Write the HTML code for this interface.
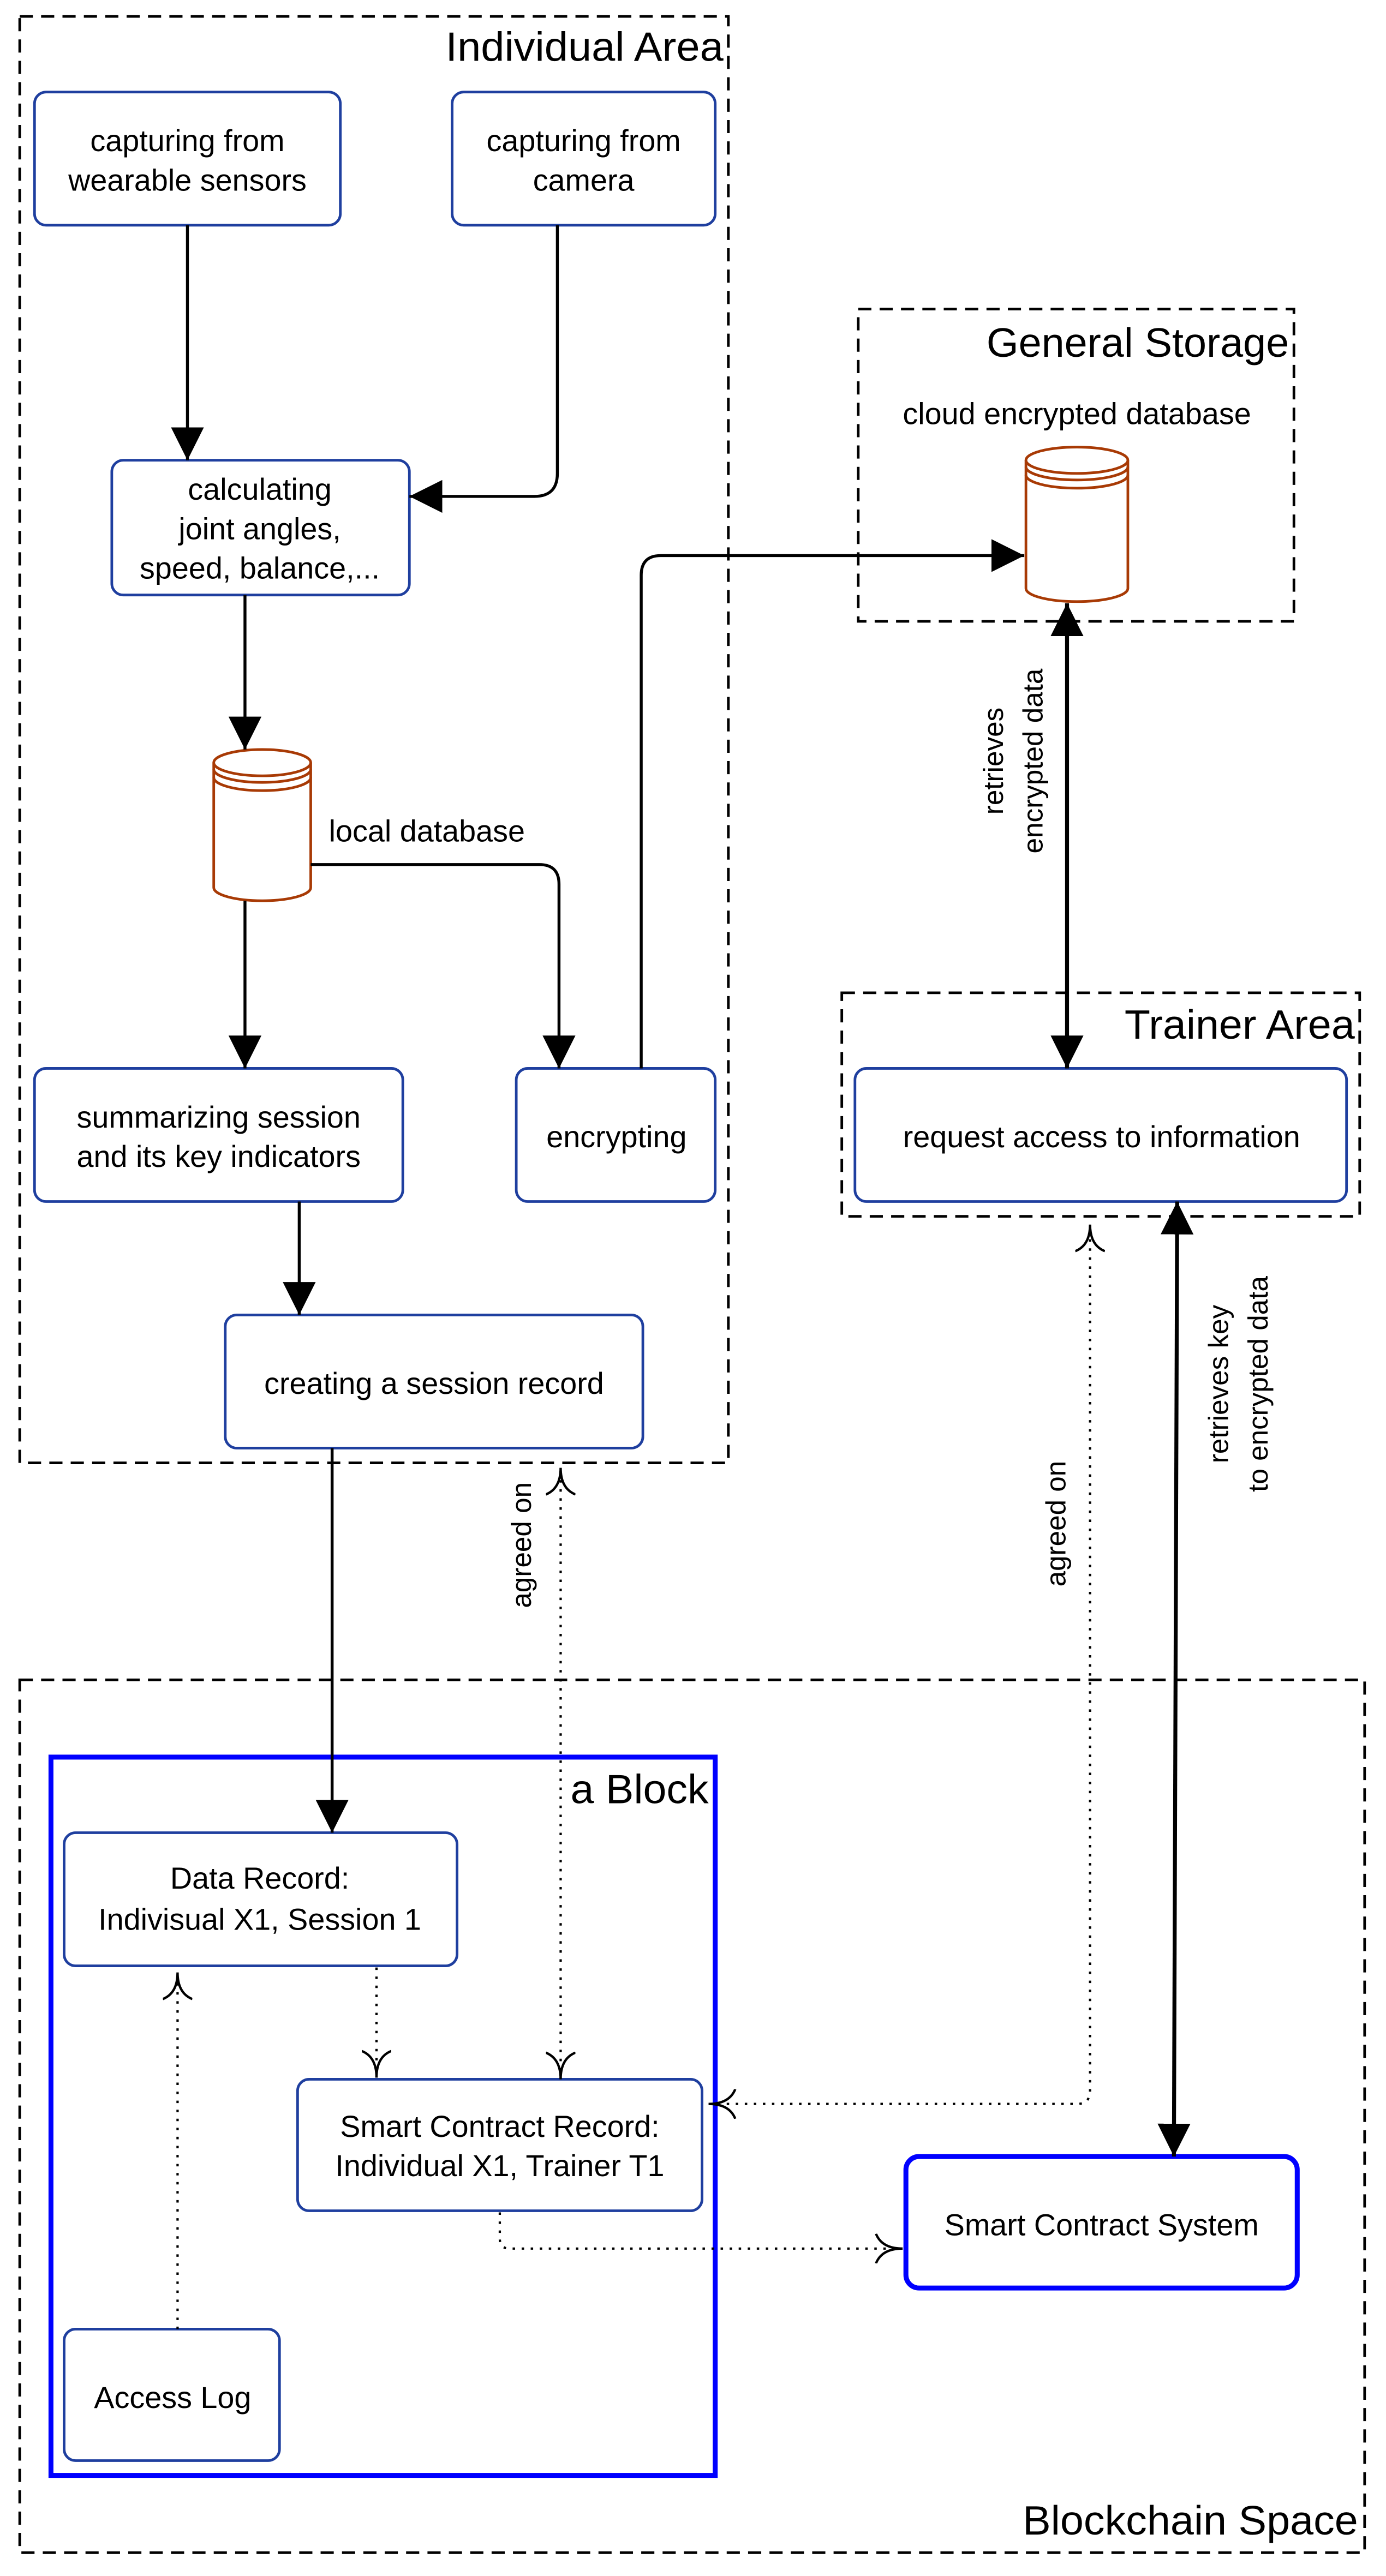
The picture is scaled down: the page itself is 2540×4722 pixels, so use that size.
<!DOCTYPE html>
<html><head><meta charset="utf-8"><style>
html,body{margin:0;padding:0;background:#fff;width:2540px;height:4722px;overflow:hidden}
svg{display:block}
text{font-family:"Liberation Sans",sans-serif;fill:#000}
</style></head><body>
<svg width="2540" height="4722" viewBox="0 0 843 1567.2" preserveAspectRatio="none" xmlns="http://www.w3.org/2000/svg">
<defs>
<marker id="fa" viewBox="0 0 10 10" refX="10" refY="5" markerWidth="20" markerHeight="20" orient="auto-start-reverse" markerUnits="userSpaceOnUse">
<path d="M0,0 L10,5 L0,10 z" fill="#000"/></marker>
<marker id="oa" viewBox="0 0 10 10" refX="10" refY="5" markerWidth="18" markerHeight="18" orient="auto-start-reverse" markerUnits="userSpaceOnUse">
<path d="M1,0 Q3,5 10,5 Q3,5 1,10" fill="none" stroke="#000" stroke-width="0.8"/></marker>
</defs>
<g fill="none" stroke="#000" stroke-width="1.6" stroke-dasharray="8,5">
<rect x="12" y="10" width="431" height="880"/>
<rect x="522" y="188" width="265" height="190"/>
<rect x="512" y="604" width="315" height="136"/>
<rect x="12" y="1022" width="818" height="531"/>
</g>
<rect x="31" y="1069" width="404" height="437" fill="none" stroke="#0000ff" stroke-width="3"/>
<g font-size="25" text-anchor="end">
<text x="440" y="37" textLength="169" lengthAdjust="spacingAndGlyphs">Individual Area</text>
<text x="784" y="217" textLength="184" lengthAdjust="spacingAndGlyphs">General Storage</text>
<text x="824" y="632" textLength="140" lengthAdjust="spacingAndGlyphs">Trainer Area</text>
<text x="431" y="1097" textLength="84" lengthAdjust="spacingAndGlyphs">a Block</text>
<text x="826" y="1542" textLength="204" lengthAdjust="spacingAndGlyphs">Blockchain Space</text>
</g>
<g fill="#fff" stroke="#1f3f9f" stroke-width="1.6">
<rect x="21" y="56" width="186" height="81" rx="7"/>
<rect x="275" y="56" width="160" height="81" rx="7"/>
<rect x="68" y="280" width="181" height="82" rx="7"/>
<rect x="21" y="650" width="224" height="81" rx="7"/>
<rect x="314" y="650" width="121" height="81" rx="7"/>
<rect x="137" y="800" width="254" height="81" rx="7"/>
<rect x="520" y="650" width="299" height="81" rx="7"/>
<rect x="39" y="1115" width="239" height="81" rx="7"/>
<rect x="181" y="1265" width="246" height="80" rx="7"/>
<rect x="39" y="1417" width="131" height="80" rx="7"/>
</g>
<rect x="551" y="1312" width="238" height="80" rx="8" fill="#fff" stroke="#0000ff" stroke-width="3"/>
<g font-size="18.5" text-anchor="middle">
<text x="114" y="92">capturing from</text><text x="114" y="116">wearable sensors</text>
<text x="355" y="92">capturing from</text><text x="355" y="116">camera</text>
<text x="158" y="304">calculating</text><text x="158" y="328">joint angles,</text><text x="158" y="352">speed, balance,...</text>
<text x="133" y="686">summarizing session</text><text x="133" y="710">and its key indicators</text>
<text x="375" y="698">encrypting</text>
<text x="264" y="848">creating a session record</text>
<text x="670" y="698">request access to information</text>
<text x="655" y="258">cloud encrypted database</text>
<text x="158" y="1149">Data Record:</text><text x="158" y="1174">Indivisual X1, Session 1</text>
<text x="304" y="1300">Smart Contract Record:</text><text x="304" y="1324">Individual X1, Trainer T1</text>
<text x="670" y="1360">Smart Contract System</text>
<text x="105" y="1465">Access Log</text>
</g>
<text x="200" y="512" font-size="18.5">local database</text>
<g fill="#fff" stroke="#a83a05" stroke-width="1.6">
<path d="M130,464 v76 a29.5,8 0 0 0 59,0 v-76"/>
<ellipse cx="159.5" cy="464" rx="29.5" ry="8"/>
<path d="M130,468 a29.5,8 0 0 0 59,0 M130,473 a29.5,8 0 0 0 59,0" fill="none"/>
<path d="M624,280 v78 a31,8 0 0 0 62,0 v-78"/>
<ellipse cx="655" cy="280" rx="31" ry="8"/>
<path d="M624,284 a31,8 0 0 0 62,0 M624,289 a31,8 0 0 0 62,0" fill="none"/>
</g>
<g fill="none" stroke="#000" stroke-width="1.8">
<path d="M114,137 V280" marker-end="url(#fa)"/>
<path d="M339,137 V288 q0,14 -14,14 H249" marker-end="url(#fa)"/>
<path d="M149,362 V456" marker-end="url(#fa)"/>
<path d="M149,548 V650" marker-end="url(#fa)"/>
<path d="M189,526 H328 q12,0 12,12 V650" marker-end="url(#fa)"/>
<path d="M390,650 V350 q0,-12 12,-12 H623" marker-end="url(#fa)"/>
<path d="M182,731 V800" marker-end="url(#fa)"/>
<path d="M202,881 V1115" marker-end="url(#fa)"/>
<path d="M649,367 V650" stroke-width="2.4" marker-start="url(#fa)" marker-end="url(#fa)"/>
<path d="M716,731 L714,1312" stroke-width="2.4" marker-start="url(#fa)" marker-end="url(#fa)"/>
</g>
<g fill="none" stroke="#000" stroke-width="1.4" stroke-dasharray="1.5,4">
<path d="M341,1265 V893" marker-start="url(#oa)" marker-end="url(#oa)"/>
<path d="M431,1280 H655 q8,0 8,-8 V745" marker-start="url(#oa)" marker-end="url(#oa)"/>
<path d="M229,1197 V1264" marker-end="url(#oa)"/>
<path d="M108,1417 V1200" marker-end="url(#oa)"/>
<path d="M304,1346 V1362 q0,6 6,6 H549" marker-end="url(#oa)"/>
</g>
<g font-size="17" text-anchor="middle">
<text transform="translate(610,463) rotate(-90)">retrieves</text>
<text transform="translate(634,463) rotate(-90)">encrypted data</text>
<text transform="translate(747,842) rotate(-90)">retrieves key</text>
<text transform="translate(771,842) rotate(-90)">to encrypted data</text>
<text transform="translate(648,927) rotate(-90)">agreed on</text>
<text transform="translate(323,940) rotate(-90)">agreed on</text>
</g>
</svg>
</body></html>
